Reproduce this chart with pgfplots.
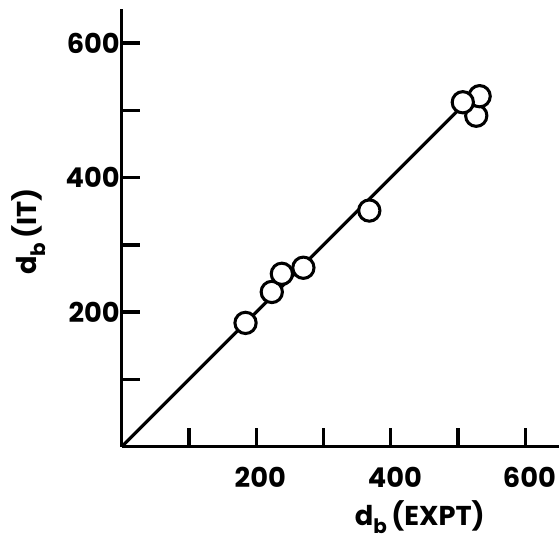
\documentclass[border=0pt]{standalone}
\usepackage{fontspec}
\setmainfont{Poppins}
\usepackage{pgfplots}
\pgfplotsset{compat=1.18}
\begin{document}
\begin{tikzpicture}
\useasboundingbox (-91.6pt,-71.3pt) rectangle (328.9pt,336pt);
\begin{axis}[
    anchor=origin, at={(0,0)},
    x=0.506pt, y=0.506pt,
    xmin=0, xmax=650, ymin=0, ymax=650,
    enlargelimits=false,
    clip=false,
    axis x line=bottom, axis y line=left,
    axis line style={-, line width=2.5pt},
    tick align=inside,
    major tick length=14pt,
    tick style={line width=2.5pt, black},
    xtick={100,200,...,600}, xticklabels={,200,,400,,600},
    ytick={100,200,...,600}, yticklabels={,200,,400,,600},
    ticklabel style={font=\bfseries\fontsize{20.5}{20.5}\selectfont},
    xticklabel style={yshift=-12pt, xshift=3pt},
    yticklabel style={xshift=2pt},
    xlabel={d\raisebox{-0.3em}{\fontsize{15}{15}\selectfont b}\,(EXPT)},
    ylabel={d\raisebox{-0.3em}{\fontsize{15}{15}\selectfont b}\,(IT)},
    label style={font=\bfseries\fontsize{20.5}{20.5}\selectfont},
    xlabel style={at={(axis description cs:0.6815,-0.162)}, anchor=center},
    ylabel style={at={(axis description cs:-0.213,0.492)}, anchor=center},
]
\addplot[line width=2.4pt, no marks] coordinates {(0,0) (507,507)};
\addplot[only marks, mark=*, mark size=8pt,
    mark options={fill=white, draw=black, line width=2.3pt}]
    coordinates {
    (184,184) (223,230) (270,266) (238,257) (368,351)
    (527,492) (532,521) (507,512)
};
\end{axis}
\end{tikzpicture}
\end{document}
